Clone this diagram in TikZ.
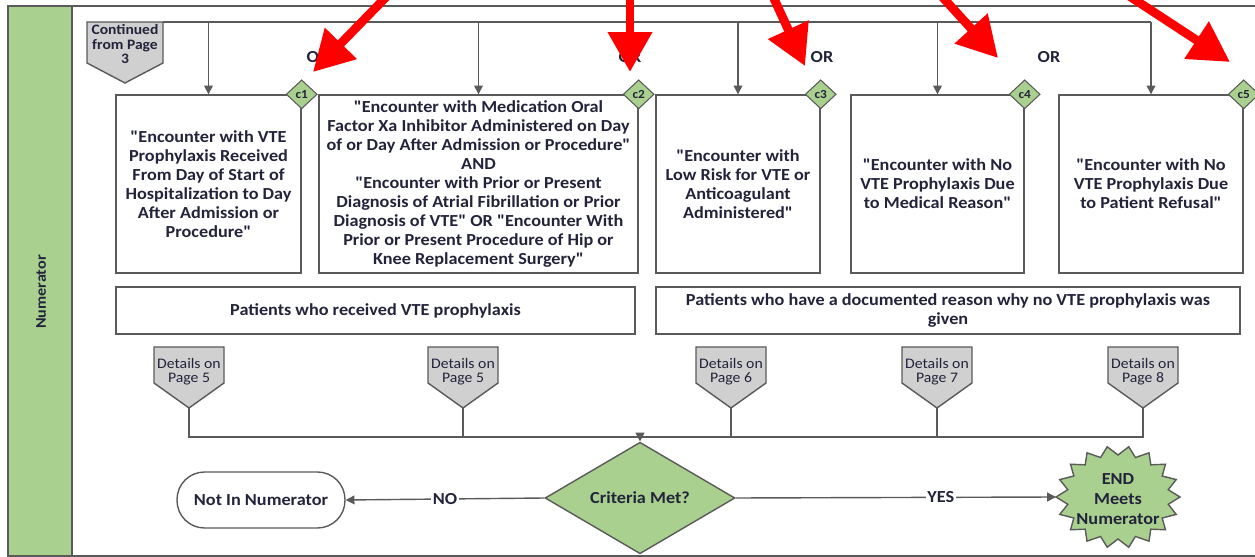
\documentclass[tikz,border=0pt]{standalone}
\usepackage{fontspec}
\setmainfont{Carlito}[Ligatures=TeXOff,FakeStretch=1.08]
\usetikzlibrary{shapes.geometric,arrows.meta}
\definecolor{bandgreen}{RGB}{169,208,142}
\definecolor{linegray}{RGB}{90,90,90}
\definecolor{offgray}{RGB}{208,208,208}
\definecolor{inkblue}{RGB}{35,35,60}
\begin{document}
\begin{tikzpicture}[x=0.02cm,y=-0.02cm,
    every node/.style={text=inkblue,font=\bfseries\fontsize{9.6}{10.8}\selectfont},
    critbox/.style={draw=linegray,line width=0.8pt,fill=white,align=center,inner sep=2pt},
    tag/.style={diamond,draw=linegray,line width=0.6pt,fill=bandgreen,minimum width=0.62cm,minimum height=0.58cm,inner sep=0pt,font=\bfseries\fontsize{7}{8}\selectfont},
    offpage/.style={draw=linegray,line width=0.8pt,fill=offgray},
    detail/.style={align=center,inner sep=0pt,font=\fontsize{8.3}{8}\selectfont},
    flow/.style={draw=linegray,line width=0.8pt},
    arr/.style={flow,-{Triangle[length=5pt,width=5pt]}},
    redarr/.style={red,line width=5pt,-{Triangle[length=0.8cm,width=0.85cm]}}]
    \useasboundingbox (0,0) rectangle (1255,557);
    \draw[linegray,line width=0.8pt] (8,6) rectangle (1275,556);
    \filldraw[fill=bandgreen,draw=linegray,line width=0.8pt] (8,6) rectangle (72,556);
    \node[rotate=90,font=\bfseries\fontsize{8.5}{10}\selectfont] (lane) at (41,292) {Numerator};

    \filldraw[offpage] (87,22) -- (163,22) -- (163,63) -- (125,83) -- (87,63) -- cycle;
    \node[detail,font=\bfseries\fontsize{8.2}{8.5}\selectfont] (cont) at (125,44) {Continued\\from Page\\3};
    \coordinate (contline) at (163,22);

    \node[critbox,minimum width=3.7cm,minimum height=3.56cm] (c1box) at (208.5,184)
        {"Encounter with VTE\\Prophylaxis Received\\From Day of Start of\\Hospitalization to Day\\After Admission or\\Procedure"};
    \node[critbox,minimum width=6.38cm,minimum height=3.56cm] (c2box) at (478.5,184)
        {"Encounter with Medication Oral\\Factor Xa Inhibitor Administered on Day\\of or Day After Admission or Procedure"\\AND\\"Encounter with Prior or Present\\Diagnosis of Atrial Fibrillation or Prior\\Diagnosis of VTE" OR "Encounter With\\Prior or Present Procedure of Hip or\\Knee Replacement Surgery"};
    \node[critbox,minimum width=3.28cm,minimum height=3.56cm] (c3box) at (738,184)
        {"Encounter with\\Low Risk for VTE or\\Anticoagulant\\Administered"};
    \node[critbox,minimum width=3.46cm,minimum height=3.56cm] (c4box) at (937.5,184)
        {"Encounter with No\\VTE Prophylaxis Due\\to Medical Reason"};
    \node[critbox,minimum width=3.68cm,minimum height=3.56cm] (c5box) at (1151,184)
        {"Encounter with No\\VTE Prophylaxis Due\\to Patient Refusal"};

    \draw[flow] (contline) -- (c5box.north |- contline);
    \foreach \b in {c1,c2,c3,c4,c5} {
        \draw[arr] (\b box.north |- contline) -- (\b box.north);
        \node[tag] (\b) at (\b box.north east) {\b};
    }

    \node (or1) at (318,57) {OR};
    \node (or2) at (630,57) {OR};
    \node (or3) at (822,57) {OR};
    \node (or4) at (1049,57) {OR};

    \node[critbox,minimum width=10.38cm,minimum height=0.94cm] (recv) at (375.5,310.5) {Patients who received VTE prophylaxis};
    \node[critbox,minimum width=11.68cm,minimum height=0.94cm] (reason) at (948,310.5)
        {Patients who have a documented reason why no VTE prophylaxis was\\given};

    \coordinate (bus) at (0,437);
    \foreach \n/\x/\p in {d1/189/5,d2/463/5,d3/731/6,d4/937/7,d5/1143/8} {
        \filldraw[offpage] (\x-35,347) -- (\x+35,347) -- (\x+35,383) -- (\x,408) -- (\x-35,383) -- cycle;
        \node[detail] (\n) at (\x,372) {Details on\\Page \p};
        \coordinate (\n tip) at (\x,408);
    }

    \node[diamond,draw=linegray,line width=0.8pt,fill=bandgreen,minimum width=3.8cm,minimum height=1.26cm,inner sep=0pt] (crit) at (640,498) {Criteria Met?};
    \node[draw=linegray,line width=0.8pt,rounded corners=0.55cm,minimum width=3.36cm,minimum height=1.12cm] (notin) at (261,500) {Not In Numerator};
    \filldraw[fill=bandgreen,draw=linegray,line width=0.8pt]
        plot[samples=37,domain=0:36,variable=\k] ({1118+(62-11*mod(\k,2))*cos(10*\k)},{497+(51-9*mod(\k,2))*sin(10*\k)}) -- cycle;
    \node[align=center,font=\bfseries\fontsize{9.6}{11.3}\selectfont] (done) at (1118,499) {END\\Meets\\Numerator};
    \coordinate (doneleft) at (1056,497);

    \draw[flow] (d1tip) |- (d5tip |- bus) -- (d5tip);
    \foreach \d in {d2,d3,d4} {
        \draw[flow] (\d tip) -- (\d tip |- bus);
    }
    \draw[arr] (crit.north |- bus) -- (crit.north);
    \draw[arr] (crit.west) -- node[fill=white,inner sep=1pt] {NO} (notin.east);
    \draw[arr] (crit.east) -- node[pos=0.64,fill=white,inner sep=1pt] {YES} (doneleft);

    \draw[redarr] (393,-10) -- (313,72);
    \draw[redarr] (630,-10) -- (630,72);
    \draw[redarr] (770,-10) -- (805,66);
    \draw[redarr] (936,-10) -- (998,58);
    \draw[redarr] (1120,-10) -- (1230,62);
\end{tikzpicture}
\end{document}
